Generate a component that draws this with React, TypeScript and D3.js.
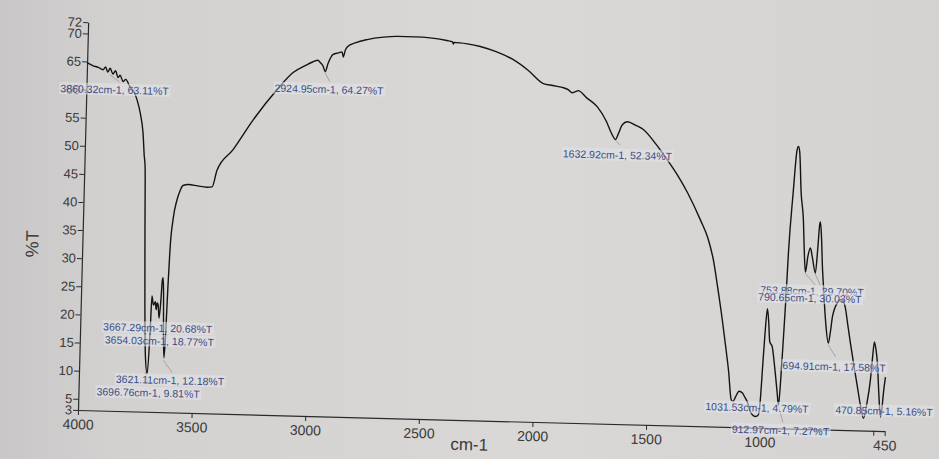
import React, { useRef, useEffect } from 'react';
import * as d3 from 'd3';

// spectrum trace: wavenumber (cm-1) and %T
const wavenumbers = [
  4000, 3975, 3950, 3929, 3918, 3908, 3898, 3885, 3874, 3862, 3853, 3840, 3828, 3809, 3790, 3776, 3760, 3746, 3738, 3733,
  3726, 3718, 3710, 3700, 3692, 3688, 3680, 3672, 3668, 3664, 3660, 3654, 3648, 3644, 3641, 3637, 3633, 3628, 3624, 3619,
  3614, 3604, 3589, 3575, 3564, 3540, 3500, 3460, 3436, 3416, 3348, 3263, 3161, 3093, 3040, 3006, 2985, 2975, 2962, 2952,
  2940, 2919, 2895, 2880, 2874, 2866, 2858, 2820, 2771, 2700, 2640, 2560, 2494, 2420, 2395, 2392, 2388, 2330, 2273, 2200,
  2126, 2060, 1991, 1950, 1907, 1880, 1863, 1850, 1837, 1800, 1751, 1710, 1685, 1668, 1655, 1640, 1617, 1580, 1546, 1490,
  1437, 1390, 1345, 1285, 1250, 1223, 1200, 1177, 1160, 1144, 1128, 1120, 1110, 1095, 1080, 1068, 1057, 1045, 1034, 1020,
  1008, 1000, 995, 988, 980, 973, 966, 954, 945, 937, 928, 920, 913, 906, 900, 894, 880, 868, 862, 856,
  845, 832, 825, 817, 808, 798, 788, 773, 765, 760, 757, 750, 743, 736, 722, 708, 700, 693, 673, 660,
  651, 637, 625, 611, 593, 575, 560, 545, 532, 519, 512, 506, 498, 490, 480, 470, 465, 460, 453,
];
const transmittance = [
  64.8, 64.3, 64.0, 63.6, 64.1, 63.2, 63.9, 62.9, 63.5, 62.3, 62.7, 61.6, 62.0, 60.7, 59.8, 58.4, 56.0, 52.6, 48.5, 46.6,
  35.0, 22.0, 13.0, 9.8, 17.0, 23.6, 22.0, 22.6, 21.2, 22.4, 22.1, 19.7, 23.0, 26.5, 26.9, 24.0, 17.0, 12.7, 16.0, 25.0,
  31.9, 37.3, 40.8, 42.6, 43.4, 43.6, 43.4, 43.2, 43.3, 46.3, 50.0, 55.4, 60.9, 64.0, 65.3, 66.0, 66.3, 65.9, 65.3, 64.3,
  65.8, 67.4, 67.7, 67.9, 67.0, 68.2, 68.8, 69.6, 70.2, 70.7, 70.9, 70.9, 70.8, 70.4, 70.2, 69.8, 70.1, 69.9, 69.5, 68.6,
  67.3, 65.5, 63.2, 62.9, 62.6, 62.2, 61.7, 61.9, 62.1, 60.9, 59.3, 56.8, 54.6, 53.6, 54.7, 56.2, 56.8, 56.2, 55.5, 53.0,
  50.2, 47.5, 44.5, 39.7, 36.5, 32.6, 27.5, 22.0, 17.5, 13.1, 7.8, 7.6, 8.4, 9.4, 9.1, 8.3, 7.5, 6.0, 5.3, 5.0,
  5.3, 8.5, 13.3, 19.5, 24.2, 22.0, 18.4, 17.4, 15.0, 12.5, 9.5, 7.1, 12.0, 19.3, 26.0, 34.2, 45.0, 52.5, 53.2, 52.3,
  45.0, 40.2, 35.0, 30.9, 33.7, 35.2, 33.5, 30.8, 35.5, 39.3, 39.9, 37.0, 32.0, 28.4, 22.0, 18.4, 20.5, 23.1, 25.6, 26.2,
  26.1, 24.7, 21.8, 18.5, 14.5, 10.7, 7.5, 5.2, 7.8, 12.0, 16.0, 18.8, 17.5, 15.1, 9.5, 5.5, 7.0, 9.8, 12.6,
];

const xTicks = [4000, 3500, 3000, 2500, 2000, 1500, 1000, 500, 450];
const yTicks = [3, 5, 10, 15, 20, 25, 30, 35, 40, 45, 50, 55, 60, 65, 70, 72];

// peak labels printed by the instrument
const peakLabels = [
  '3860.32cm-1, 63.11%T',
  '2924.95cm-1, 64.27%T',
  '1632.92cm-1, 52.34%T',
  '3667.29cm-1, 20.68%T',
  '3654.03cm-1, 18.77%T',
  '3621.11cm-1, 12.18%T',
  '3696.76cm-1, 9.81%T',
  '753.88cm-1, 29.70%T',
  '790.65cm-1, 30.03%T',
  '694.91cm-1, 17.58%T',
  '1031.53cm-1, 4.79%T',
  '470.85cm-1, 5.16%T',
  '912.97cm-1, 7.27%T',
];
// label placement (left x, middle y) inside the plot frame
const labelPos = [
  [52, 89], [266, 83], [556, 141], [101, 326], [103, 339], [115, 378], [96, 391],
  [757, 272], [755, 279], [781, 347], [705, 390], [835, 390], [732, 412],
];
// short leader lines from peak to label
const leaders = [
  [101, 74, 111, 81], [316, 66, 321, 75], [608, 126, 613, 131], [162, 358, 171, 370],
  [144, 370, 147, 381], [801, 254, 812, 266], [811, 254, 817, 266], [826, 325, 834, 337],
  [778, 387, 783, 404],
];

const W = 939;
const H = 459;
const ox = 78;
const oy = 410;
const tilt = 1.5;

const App = () => {
  const svgRef = useRef<SVGSVGElement>(null);

  useEffect(() => {
    const svg = d3.select(svgRef.current);
    svg.selectAll('*').remove();

    const defs = svg.append('defs');
    const grad = defs.append('linearGradient').attr('id', 'paper').attr('x1', 0).attr('x2', 1).attr('y1', 0).attr('y2', 0);
    grad.append('stop').attr('offset', '0%').attr('stop-color', '#c9c7c7');
    grad.append('stop').attr('offset', '12%').attr('stop-color', '#d3d1d0');
    grad.append('stop').attr('offset', '55%').attr('stop-color', '#dad8d7');
    grad.append('stop').attr('offset', '100%').attr('stop-color', '#d5d3d2');
    svg.append('rect').attr('width', W).attr('height', H).attr('fill', 'url(#paper)');

    const x = d3.scaleLinear().domain([4000, 450]).range([ox, ox + 807]);
    const y = d3.scaleLinear().domain([3, 72]).range([oy, oy - 388]);

    const g = svg.append('g').attr('transform', `rotate(${tilt},${ox},${oy})`);

    const ink = '#3a3a3a';
    const font = 'Liberation Sans, Arial, sans-serif';

    const yAxis = g.append('g')
      .attr('transform', `translate(${ox},0)`)
      .call(d3.axisLeft(y).tickValues(yTicks).tickSize(5).tickSizeOuter(0).tickFormat(d3.format('d')));
    yAxis.selectAll('text').attr('font-size', 13).attr('font-family', font).attr('fill', ink).attr('dx', 2);

    const xAxis = g.append('g')
      .attr('transform', `translate(0,${oy})`)
      .call(d3.axisBottom(x).tickValues(xTicks).tickSize(5).tickSizeOuter(0)
        .tickFormat(d => (d === 500 ? '' : d3.format('d')(d as number))));
    xAxis.selectAll('text').attr('font-size', 14).attr('font-family', font).attr('fill', ink).attr('dy', '0.8em');

    g.selectAll('.domain').attr('stroke', '#2a2a2a').attr('stroke-width', 1.2);
    g.selectAll('.tick line').attr('stroke', '#2a2a2a');

    const points = wavenumbers.map((w, i) => [w, transmittance[i]] as [number, number]);
    const line = d3.line<[number, number]>()
      .x(d => x(d[0]))
      .y(d => y(d[1]))
      .curve(d3.curveMonotoneX);
    g.append('path')
      .attr('d', line(points))
      .attr('fill', 'none')
      .attr('stroke', '#141414')
      .attr('stroke-width', 1.4)
      .attr('stroke-linejoin', 'round');

    g.selectAll('.leader')
      .data(leaders)
      .enter()
      .append('line')
      .attr('x1', d => d[0]).attr('y1', d => d[1])
      .attr('x2', d => d[2]).attr('y2', d => d[3])
      .attr('stroke', '#9c9494')
      .attr('stroke-width', 0.8);

    const labels = g.selectAll('.peak')
      .data(peakLabels)
      .enter()
      .append('g')
      .attr('transform', (d, i) => `translate(${labelPos[i][0]},${labelPos[i][1]})`);
    labels.append('text')
      .text(d => d)
      .attr('font-size', 10.5)
      .attr('font-family', font)
      .attr('fill', '#3d4c82')
      .attr('dy', '0.35em')
      .each(function () {
        const bb = (this as SVGTextElement).getBBox();
        d3.select((this as SVGTextElement).parentNode as SVGGElement)
          .insert('rect', 'text')
          .attr('x', bb.x - 1).attr('y', bb.y)
          .attr('width', bb.width + 2).attr('height', bb.height)
          .attr('fill', '#e2e3ea').attr('opacity', 0.55);
      });

    g.append('text')
      .attr('transform', `translate(34,${oy - 165}) rotate(-90)`)
      .attr('text-anchor', 'middle')
      .attr('font-size', 18)
      .attr('font-family', font)
      .attr('fill', ink)
      .text('%T');

    g.append('text')
      .attr('x', 470).attr('y', oy + 30)
      .attr('text-anchor', 'middle')
      .attr('font-size', 17)
      .attr('font-family', font)
      .attr('fill', ink)
      .text('cm-1');
  }, []);

  return <svg ref={svgRef} width={W} height={H} style={{ position: 'absolute', left: 0, top: 0 }}></svg>;
};

export default App;
